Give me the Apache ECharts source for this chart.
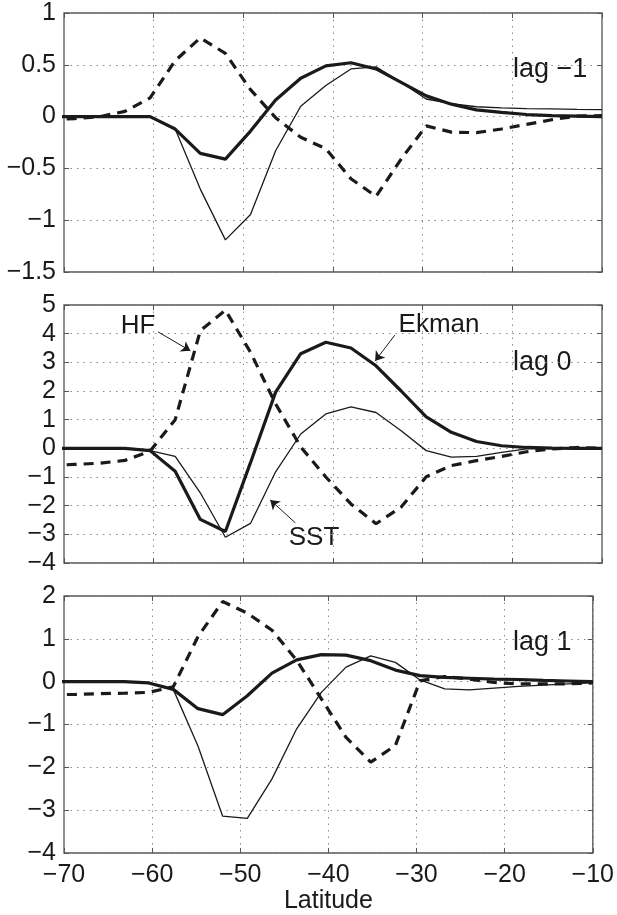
<!DOCTYPE html>
<html>
<head>
<meta charset="utf-8">
<title>Ekman / SST / HF lag regressions vs latitude</title>
<script src="https://cdn.jsdelivr.net/npm/echarts/dist/echarts.min.js"></script>
<style>
  html, body { margin: 0; padding: 0; background: #fff; }
  #main { width: 617px; height: 915px; }
</style>
</head>
<body>
<div id="main"></div>
<script>
// latitude of each model grid row (first one sits just left of the -70 edge)
var latitudes = [-71.6, -68.8, -66.0, -63.2, -60.4, -57.6, -54.8, -52.0, -49.2, -46.4, -43.6, -40.8,
                 -38.0, -35.2, -32.4, -29.6, -26.8, -24.0, -21.2, -18.4, -15.6, -12.8, -10.0];

// lag -1
var ekmanLagM1 = [0, 0, 0, 0, 0, -0.12, -0.355, -0.41, -0.14, 0.16, 0.37, 0.49, 0.52, 0.46, 0.33, 0.2, 0.12, 0.065, 0.04, 0.02, 0.01, 0.005, 0];
var sstLagM1   = [0, 0, 0, 0, 0, -0.12, -0.7, -1.19, -0.945, -0.33, 0.1, 0.3, 0.46, 0.48, 0.33, 0.17, 0.125, 0.095, 0.085, 0.077, 0.074, 0.07, 0.068];
var hfLagM1    = [-0.03, -0.02, 0.0, 0.05, 0.18, 0.54, 0.76, 0.61, 0.26, -0.01, -0.2, -0.31, -0.6, -0.77, -0.41, -0.09, -0.15, -0.155, -0.12, -0.075, -0.03, 0.005, 0.01];

// lag 0
var ekmanLag0 = [0, 0, 0, 0, -0.08, -0.8, -2.48, -2.9, -0.5, 1.96, 3.3, 3.7, 3.5, 2.88, 2.0, 1.1, 0.56, 0.24, 0.09, 0.03, 0.01, 0, 0];
var sstLag0   = [0, 0, 0, 0, -0.08, -0.28, -1.55, -3.1, -2.62, -0.82, 0.5, 1.2, 1.45, 1.25, 0.61, -0.08, -0.31, -0.28, -0.14, -0.02, 0, 0, 0];
var hfLag0    = [-0.6, -0.56, -0.52, -0.42, -0.1, 1.0, 4.1, 4.82, 3.35, 1.55, 0.05, -1.0, -1.94, -2.63, -2.05, -0.99, -0.6, -0.43, -0.28, -0.12, -0.02, 0.03, 0];

// lag 1
var ekmanLag1 = [0, 0, 0, 0, -0.03, -0.18, -0.63, -0.77, -0.33, 0.2, 0.51, 0.63, 0.62, 0.49, 0.27, 0.14, 0.1, 0.08, 0.06, 0.05, 0.03, 0.015, 0];
var sstLag1   = [0, 0, 0, 0, -0.03, -0.18, -1.5, -3.14, -3.19, -2.27, -1.1, -0.25, 0.34, 0.6, 0.45, 0.04, -0.17, -0.19, -0.15, -0.11, -0.08, -0.05, -0.03];
var hfLag1    = [-0.3, -0.3, -0.28, -0.27, -0.25, -0.12, 1.05, 1.87, 1.6, 1.2, 0.5, -0.4, -1.3, -1.88, -1.49, 0.02, 0.12, 0.06, -0.02, -0.05, -0.05, -0.05, -0.03];

// axis ticks
var latTicks = [-70, -60, -50, -40, -30, -20, -10];
var yTicksLagM1 = [-1.5, -1, -0.5, 0, 0.5, 1];
var yTicksLag0 = [-4, -3, -2, -1, 0, 1, 2, 3, 4, 5];
var yTicksLag1 = [-4, -3, -2, -1, 0, 1, 2];

var panelLabels = ['lag \u22121', 'lag 0', 'lag 1'];

var FONT = 'Liberation Sans';
var INK = '#1a1a1a';
var BOX = '#555';

function pairs(ys) {
  return latitudes.map(function (lat, i) { return [lat, ys[i]]; });
}
function minus(v) {
  return String(v).replace('-', '\u2212');
}

var chart = echarts.init(document.getElementById('main'), null, { renderer: 'canvas' });

var grids = [
  { left: 64, right: 15, top: 13, height: 259 },
  { left: 64, right: 15, top: 305, height: 258 },
  { left: 64, right: 15, top: 596, height: 257 }
];
var yTickSets = [yTicksLagM1, yTicksLag0, yTicksLag1];

var xAxes = [], yAxes = [];
grids.forEach(function (g, i) {
  var isLast = i === grids.length - 1;
  var ticks = yTickSets[i];
  var tick = { show: true, inside: true, length: 5, lineStyle: { color: BOX, width: 1 } };
  var grid = { show: true, lineStyle: { color: '#8a8a8a', width: 1, type: [1.5, 5] } };
  xAxes.push({
    type: 'value', gridIndex: i, position: 'bottom',
    min: latTicks[0], max: latTicks[latTicks.length - 1], interval: 10,
    axisLine: { show: false, onZero: false },
    axisTick: tick,
    splitLine: grid,
    axisLabel: { show: isLast, margin: 10, color: INK, fontFamily: FONT, fontSize: 25, formatter: minus },
    name: isLast ? 'Latitude' : '',
    nameLocation: 'middle', nameGap: 34,
    nameTextStyle: { color: INK, fontFamily: FONT, fontSize: 25 }
  });
  xAxes.push({
    type: 'value', gridIndex: i, position: 'top',
    min: latTicks[0], max: latTicks[latTicks.length - 1], interval: 10,
    axisLine: { show: false, onZero: false },
    axisTick: tick, splitLine: { show: false }, axisLabel: { show: false }
  });
  yAxes.push({
    type: 'value', gridIndex: i, position: 'left',
    min: ticks[0], max: ticks[ticks.length - 1], interval: ticks[1] - ticks[0],
    axisLine: { show: false, onZero: false },
    axisTick: tick,
    splitLine: grid,
    axisLabel: { margin: 8, color: INK, fontFamily: FONT, fontSize: 25, formatter: minus }
  });
  yAxes.push({
    type: 'value', gridIndex: i, position: 'right',
    min: ticks[0], max: ticks[ticks.length - 1], interval: ticks[1] - ticks[0],
    axisLine: { show: false, onZero: false },
    axisTick: tick, splitLine: { show: false }, axisLabel: { show: false }
  });
});

var panels = [
  { ekman: ekmanLagM1, sst: sstLagM1, hf: hfLagM1 },
  { ekman: ekmanLag0, sst: sstLag0, hf: hfLag0 },
  { ekman: ekmanLag1, sst: sstLag1, hf: hfLag1 }
];

var series = [];
panels.forEach(function (p, i) {
  var base = { type: 'line', xAxisIndex: 2 * i, yAxisIndex: 2 * i, symbol: 'none', clip: true, silent: true };
  series.push(Object.assign({}, base, {
    name: 'HF', data: pairs(p.hf), z: 3,
    lineStyle: { color: INK, width: 3.2, type: [10, 7], cap: 'butt' }
  }));
  series.push(Object.assign({}, base, {
    name: 'SST', data: pairs(p.sst), z: 4,
    lineStyle: { color: INK, width: 1.3 }
  }));
  series.push(Object.assign({}, base, {
    name: 'Ekman', data: pairs(p.ekman), z: 5,
    lineStyle: { color: INK, width: 3.2 }
  }));
});

// arrows pointing at the curves in the lag 0 panel
series[4].markLine = {
  silent: true, animation: false,
  symbol: ['none', 'arrow'], symbolSize: 9,
  lineStyle: { color: INK, width: 1, type: 'solid' },
  label: { show: false },
  data: [
    [{ coord: [-59.5, 4.06] }, { coord: [-55.9, 3.4] }],
    [{ coord: [-33.1, 3.95] }, { coord: [-35.3, 3.05] }],
    [{ coord: [-44.2, -2.6] }, { coord: [-47.0, -1.8] }]
  ]
};

function label(text, x, y, align, size) {
  return {
    type: 'text', x: x, y: y, silent: true,
    style: { text: text, fill: INK, font: (size || 26) + 'px "' + FONT + '"', align: align || 'left', verticalAlign: 'middle' }
  };
}

chart.setOption({
  animation: false,
  backgroundColor: '#fff',
  grid: grids.map(function (g) {
    return Object.assign({ show: true, borderColor: BOX, borderWidth: 1.3, backgroundColor: 'transparent', containLabel: false }, g);
  }),
  xAxis: xAxes,
  yAxis: yAxes,
  series: series,
  graphic: [
    label(panelLabels[0], 513, 70, 'left', 27),
    label(panelLabels[1], 513, 363, 'left', 27),
    label(panelLabels[2], 513, 643, 'left', 27),
    label('HF', 138, 326, 'center'),
    label('Ekman', 439, 325, 'center'),
    label('SST', 314, 538, 'center')
  ]
});
</script>
</body>
</html>
